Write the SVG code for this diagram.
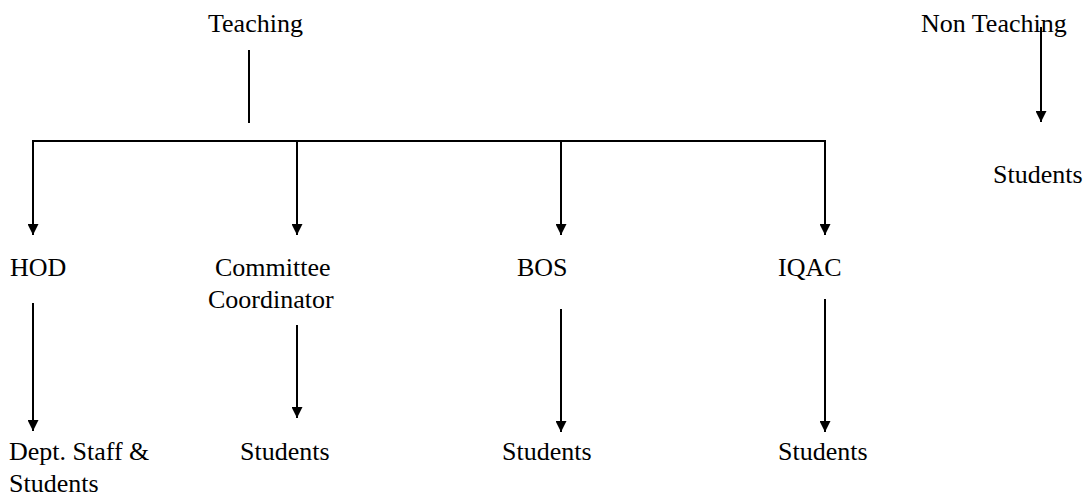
<svg xmlns="http://www.w3.org/2000/svg" width="1086" height="496" viewBox="0 0 1086 496">
<style>
text{font-family:"Liberation Serif","Times New Roman",serif;font-size:26px;fill:#000}
.ln{stroke:#000;stroke-width:2;fill:none}
</style>
<defs>
<marker id="ah" markerUnits="userSpaceOnUse" markerWidth="11" markerHeight="11" refX="10" refY="5" orient="auto" viewBox="0 0 10 10">
<path d="M0,0 L10,5 L0,10 z" fill="#000"/>
</marker>
</defs>
<rect width="1086" height="496" fill="#fff"/>
<g id="connectors">
<line class="ln" x1="249" y1="50" x2="249" y2="123"/>
<path class="ln" d="M33,141 H825"/>
<line class="ln" x1="33" y1="140" x2="33" y2="235" marker-end="url(#ah)"/>
<line class="ln" x1="297" y1="140" x2="297" y2="235" marker-end="url(#ah)"/>
<line class="ln" x1="561" y1="140" x2="561" y2="235" marker-end="url(#ah)"/>
<line class="ln" x1="825" y1="140" x2="825" y2="235" marker-end="url(#ah)"/>
<line class="ln" x1="33" y1="303" x2="33" y2="431" marker-end="url(#ah)"/>
<line class="ln" x1="297" y1="325" x2="297" y2="418" marker-end="url(#ah)"/>
<line class="ln" x1="561" y1="309" x2="561" y2="432" marker-end="url(#ah)"/>
<line class="ln" x1="825" y1="299" x2="825" y2="432" marker-end="url(#ah)"/>
<line class="ln" x1="1041" y1="27" x2="1041" y2="122" marker-end="url(#ah)"/>
</g>
<g id="teaching"><text x="208" y="32">Teaching</text></g>
<g id="non-teaching"><text x="921" y="32">Non Teaching</text></g>
<g id="nt-students"><text x="993" y="183">Students</text></g>
<g id="hod"><text x="10" y="276">HOD</text></g>
<g id="committee"><text x="215" y="276">Committee</text><text x="208" y="308">Coordinator</text></g>
<g id="bos"><text x="517" y="276">BOS</text></g>
<g id="iqac"><text x="778" y="276">IQAC</text></g>
<g id="hod-staff"><text x="9" y="460">Dept. Staff &amp;</text><text x="9" y="492">Students</text></g>
<g id="cc-students"><text x="240" y="460">Students</text></g>
<g id="bos-students"><text x="502" y="460">Students</text></g>
<g id="iqac-students"><text x="778" y="460">Students</text></g>
</svg>
